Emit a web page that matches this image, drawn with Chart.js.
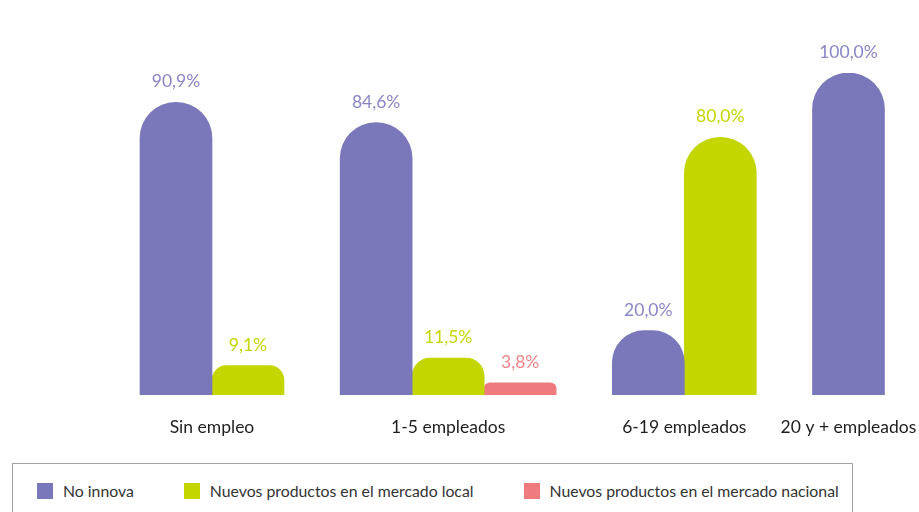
<!DOCTYPE html>
<html>
<head>
<meta charset="utf-8">
<script src="https://cdn.jsdelivr.net/npm/chart.js@4.4.1/dist/chart.umd.min.js"></script>
<style>
  html, body { margin: 0; padding: 0; background: #fff; }
  #wrap { position: relative; width: 919px; height: 512px; overflow: hidden; font-family: Lato, "Open Sans", sans-serif; }
  #chartBox { position: absolute; left: 0; top: 0; width: 919px; height: 460px; }
  #legend { position: absolute; left: 12px; top: 463px; width: 841px; height: 70px; border: 1px solid #a3a3a3;
            box-sizing: border-box; display: flex; align-items: flex-start; padding: 17px 0 0 24px; }
  .item { display: flex; align-items: center; margin-right: 50px; font-size: 15.8px; color: #333; white-space: nowrap; }
  .sw { width: 16px; height: 16px; margin-right: 10px; }
</style>
</head>
<body>
<div id="wrap">
  <div id="chartBox"><canvas id="c"></canvas></div>
  <div id="legend"></div>
</div>
<script>
// ---- data ----
const categories = ['Sin empleo', '1-5 empleados', '6-19 empleados', '20 y + empleados'];
const seriesNames = ['No innova', 'Nuevos productos en el mercado local', 'Nuevos productos en el mercado nacional'];
const noInnova = [90.9, 84.6, 20.0, 100.0];
const mercadoLocal = [9.1, 11.5, 80.0, null];
const mercadoNacional = [null, 3.8, null, null];

// ---- style ----
const barColors = ['#7b77bb', '#c3d600', '#ef7b7e'];
const labelColors = ['#8a86c6', '#c3d600', '#f08487'];
const BAR_PX = 72;        // bar thickness in px
const GROUP_GAP = 0.78;   // gap between groups, in bar widths

const series = [noInnova, mercadoLocal, mercadoNacional];

// group centres derived from how many bars each category actually has
const counts = categories.map((_, i) => series.filter(s => s[i] !== null && s[i] !== undefined).length);
const centers = [];
let cursor = 0;
counts.forEach((n, i) => { centers.push(cursor + n / 2); cursor += n + GROUP_GAP; });

const datasets = series.map((s, k) => ({
  label: seriesNames[k],
  data: s.map((v, i) => ({ x: centers[i], y: v })),
  backgroundColor: barColors[k],
  borderWidth: 0,
  borderSkipped: 'bottom',
  borderRadius: { topLeft: BAR_PX / 2, topRight: BAR_PX / 2, bottomLeft: 0, bottomRight: 0 },
  barThickness: BAR_PX,
  skipNull: true,
  labelColor: labelColors[k]
}));

const valueLabels = {
  id: 'valueLabels',
  afterDatasetsDraw(chart) {
    const ctx = chart.ctx;
    ctx.save();
    ctx.font = '17.5px Lato';
    ctx.textAlign = 'center';
    ctx.textBaseline = 'alphabetic';
    chart.data.datasets.forEach((ds, di) => {
      const meta = chart.getDatasetMeta(di);
      meta.data.forEach((el, i) => {
        const v = ds.data[i].y;
        if (v === null || v === undefined) return;
        ctx.fillStyle = ds.labelColor;
        ctx.fillText(v.toFixed(1).replace('.', ',') + '%', el.x, el.y - 15);
      });
    });
    ctx.restore();
  }
};

new Chart(document.getElementById('c'), {
  type: 'bar',
  data: { datasets },
  options: {
    responsive: true,
    maintainAspectRatio: false,
    animation: false,
    layout: { padding: { top: 73, left: 0, right: 0, bottom: 0 } },
    plugins: { legend: { display: false }, tooltip: { enabled: false } },
    scales: {
      x: {
        type: 'linear',
        offset: false,
        min: -140 / BAR_PX,
        max: (919 - 140) / BAR_PX,
        grid: { display: false, drawTicks: false },
        border: { display: false },
        afterBuildTicks(scale) { scale.ticks = centers.map(v => ({ value: v })); },
        afterFit(scale) { scale.paddingLeft = 0; scale.paddingRight = 0; },
        ticks: {
          autoSkip: false,
          maxRotation: 0,
          padding: 22,
          color: '#1e1e1e',
          font: { family: 'Lato', size: 17.5 },
          callback: (value, index) => categories[index]
        }
      },
      y: {
        display: false,
        min: 0,
        max: 100
      }
    }
  },
  plugins: [valueLabels]
});

// HTML legend
const lg = document.getElementById('legend');
seriesNames.forEach((name, k) => {
  const it = document.createElement('div');
  it.className = 'item';
  const sw = document.createElement('span');
  sw.className = 'sw';
  sw.style.background = barColors[k];
  const tx = document.createElement('span');
  tx.textContent = name;
  it.appendChild(sw); it.appendChild(tx);
  lg.appendChild(it);
});
</script>
</body>
</html>
